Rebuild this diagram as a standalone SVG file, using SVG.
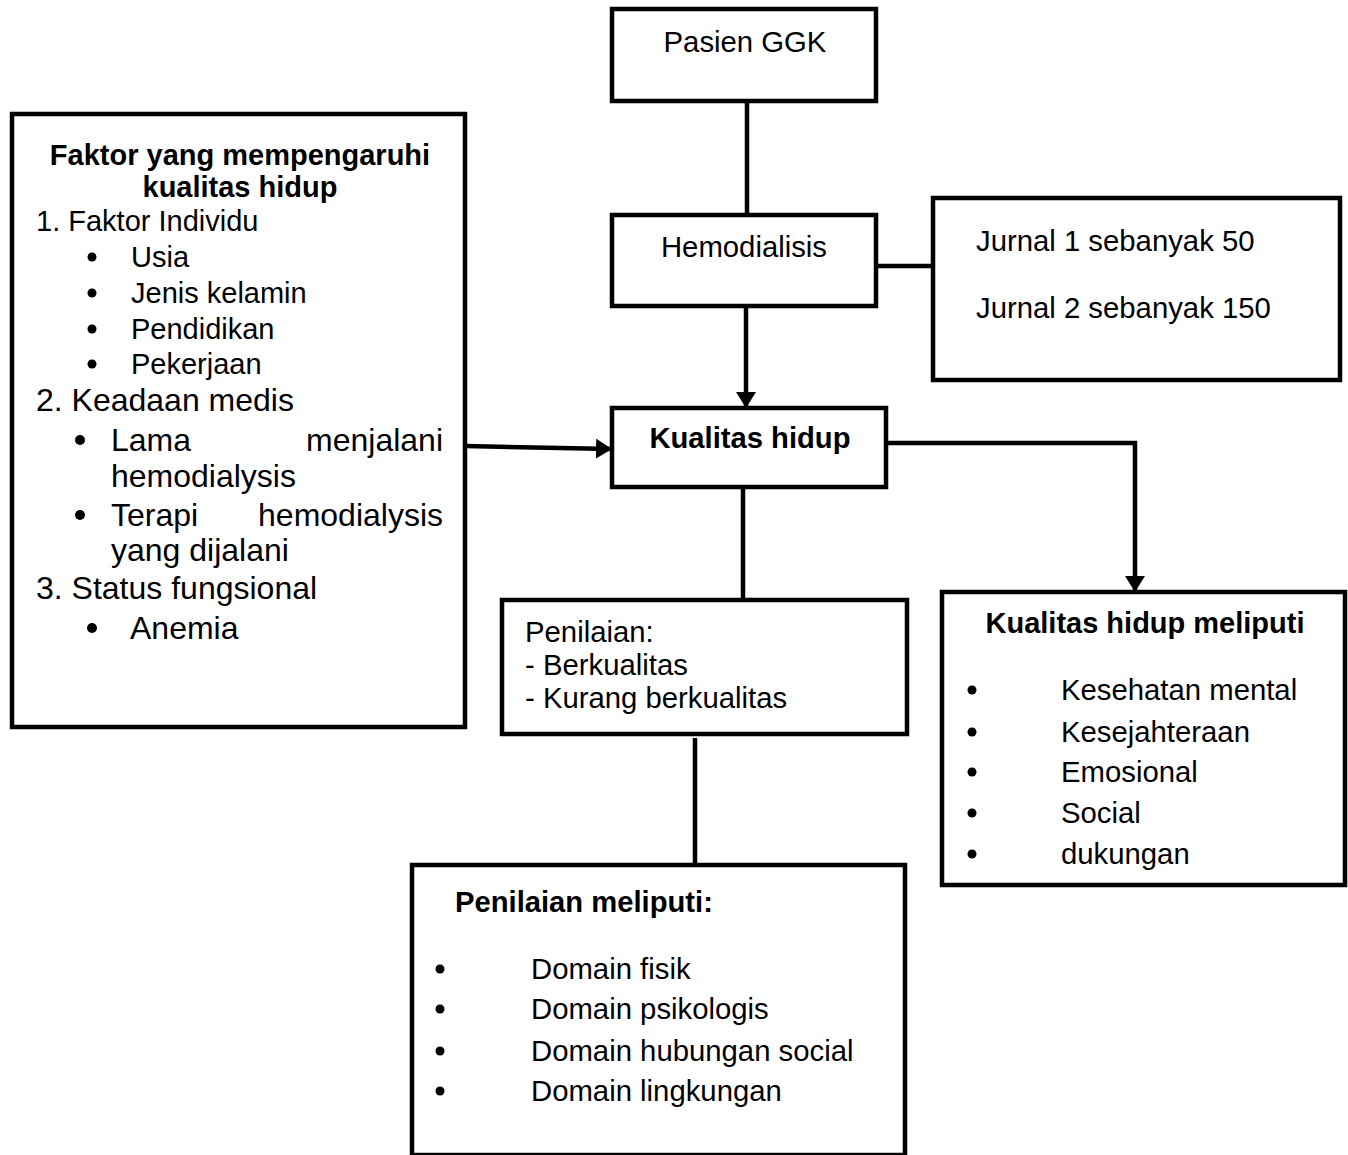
<svg xmlns="http://www.w3.org/2000/svg" width="1348" height="1155" viewBox="0 0 1348 1155">
<style>
.box{fill:#fff;stroke:#000;stroke-width:4.5}
.t{font-family:"Liberation Sans",Arial,sans-serif;font-size:29.3px;fill:#000}
.b{font-weight:bold;font-size:29.2px}
.l{font-size:29px}
.xl{font-size:32px}
.c{stroke:#000;stroke-width:4.5;fill:none}
</style>
<defs>
<marker id="ah" markerUnits="userSpaceOnUse" markerWidth="22" markerHeight="22" refX="16" refY="10" orient="auto">
<path d="M0,0 L16,10 L0,20 Z" fill="#000"/>
</marker>
</defs>
<rect width="1348" height="1155" fill="#fff"/>
<g id="connectors">
<line class="c" x1="747" y1="102" x2="747" y2="215"/>
<line class="c" x1="746" y1="307" x2="746" y2="408" marker-end="url(#ah)"/>
<line class="c" x1="876" y1="266" x2="932" y2="266"/>
<line class="c" x1="465" y1="446" x2="612" y2="449" marker-end="url(#ah)"/>
<polyline class="c" points="886,443 1135,443 1135,592" marker-end="url(#ah)"/>
<line class="c" x1="743" y1="487" x2="743" y2="600"/>
<line class="c" x1="695" y1="738" x2="695" y2="864"/>
</g>
<g id="pasien">
<rect class="box" x="612" y="9" width="264" height="92"/>
<text class="t" x="745" y="52" text-anchor="middle">Pasien GGK</text>
</g>
<g id="hemodialisis">
<rect class="box" x="612" y="215" width="264" height="91"/>
<text class="t" x="744" y="257" text-anchor="middle">Hemodialisis</text>
</g>
<g id="jurnal">
<rect class="box" x="933" y="198" width="407" height="182"/>
<text class="t" x="976" y="251">Jurnal 1 sebanyak 50</text>
<text class="t" x="976" y="318">Jurnal 2 sebanyak 150</text>
</g>
<g id="kualitas">
<rect class="box" x="612" y="408" width="274" height="79"/>
<text class="t b" x="750" y="448" text-anchor="middle">Kualitas hidup</text>
</g>
<g id="faktor">
<rect class="box" x="12" y="114" width="453" height="613"/>
<text class="t l b" x="240" y="165" text-anchor="middle">Faktor yang mempengaruhi</text>
<text class="t l b" x="240" y="197" text-anchor="middle">kualitas hidup</text>
<text class="t l" x="36" y="231">1. Faktor Individu</text>
<circle cx="92" cy="257" r="4.5"/><text class="t l" x="131" y="267">Usia</text>
<circle cx="92" cy="293" r="4.5"/><text class="t l" x="131" y="303">Jenis kelamin</text>
<circle cx="92" cy="329" r="4.5"/><text class="t l" x="131" y="339">Pendidikan</text>
<circle cx="92" cy="364" r="4.5"/><text class="t l" x="131" y="374">Pekerjaan</text>
<text class="t xl" x="36" y="411">2. Keadaan medis</text>
<circle cx="80" cy="440" r="5"/><text class="t xl" x="111" y="451">Lama</text><text class="t xl" x="443" y="451" text-anchor="end">menjalani</text>
<text class="t xl" x="111" y="487">hemodialysis</text>
<circle cx="80" cy="515" r="5"/><text class="t xl" x="111" y="526">Terapi</text><text class="t xl" x="443" y="526" text-anchor="end">hemodialysis</text>
<text class="t xl" x="111" y="561">yang dijalani</text>
<text class="t xl" x="36" y="599">3. Status fungsional</text>
<circle cx="92" cy="628" r="5"/><text class="t xl" x="130" y="639">Anemia</text>
</g>
<g id="penilaian">
<rect class="box" x="502" y="600" width="405" height="134"/>
<text class="t" x="525" y="642">Penilaian:</text>
<text class="t" x="525" y="675">- Berkualitas</text>
<text class="t" x="525" y="708">- Kurang berkualitas</text>
</g>
<g id="meliputi-kualitas">
<rect class="box" x="942" y="592" width="403" height="293"/>
<text class="t l b" x="1145" y="633" text-anchor="middle">Kualitas hidup meliputi</text>
<circle cx="972" cy="690" r="4.5"/><text class="t" x="1061" y="700">Kesehatan mental</text>
<circle cx="972" cy="732" r="4.5"/><text class="t" x="1061" y="742">Kesejahteraan</text>
<circle cx="972" cy="772" r="4.5"/><text class="t" x="1061" y="782">Emosional</text>
<circle cx="972" cy="813" r="4.5"/><text class="t" x="1061" y="823">Social</text>
<circle cx="972" cy="854" r="4.5"/><text class="t" x="1061" y="864">dukungan</text>
</g>
<g id="meliputi-penilaian">
<rect class="box" x="412" y="865" width="493" height="290"/>
<text class="t b" x="455" y="912">Penilaian meliputi:</text>
<circle cx="440" cy="969" r="4.5"/><text class="t" x="531" y="979">Domain fisik</text>
<circle cx="440" cy="1009" r="4.5"/><text class="t" x="531" y="1019">Domain psikologis</text>
<circle cx="440" cy="1051" r="4.5"/><text class="t" x="531" y="1061">Domain hubungan social</text>
<circle cx="440" cy="1091" r="4.5"/><text class="t" x="531" y="1101">Domain lingkungan</text>
</g>
</svg>
